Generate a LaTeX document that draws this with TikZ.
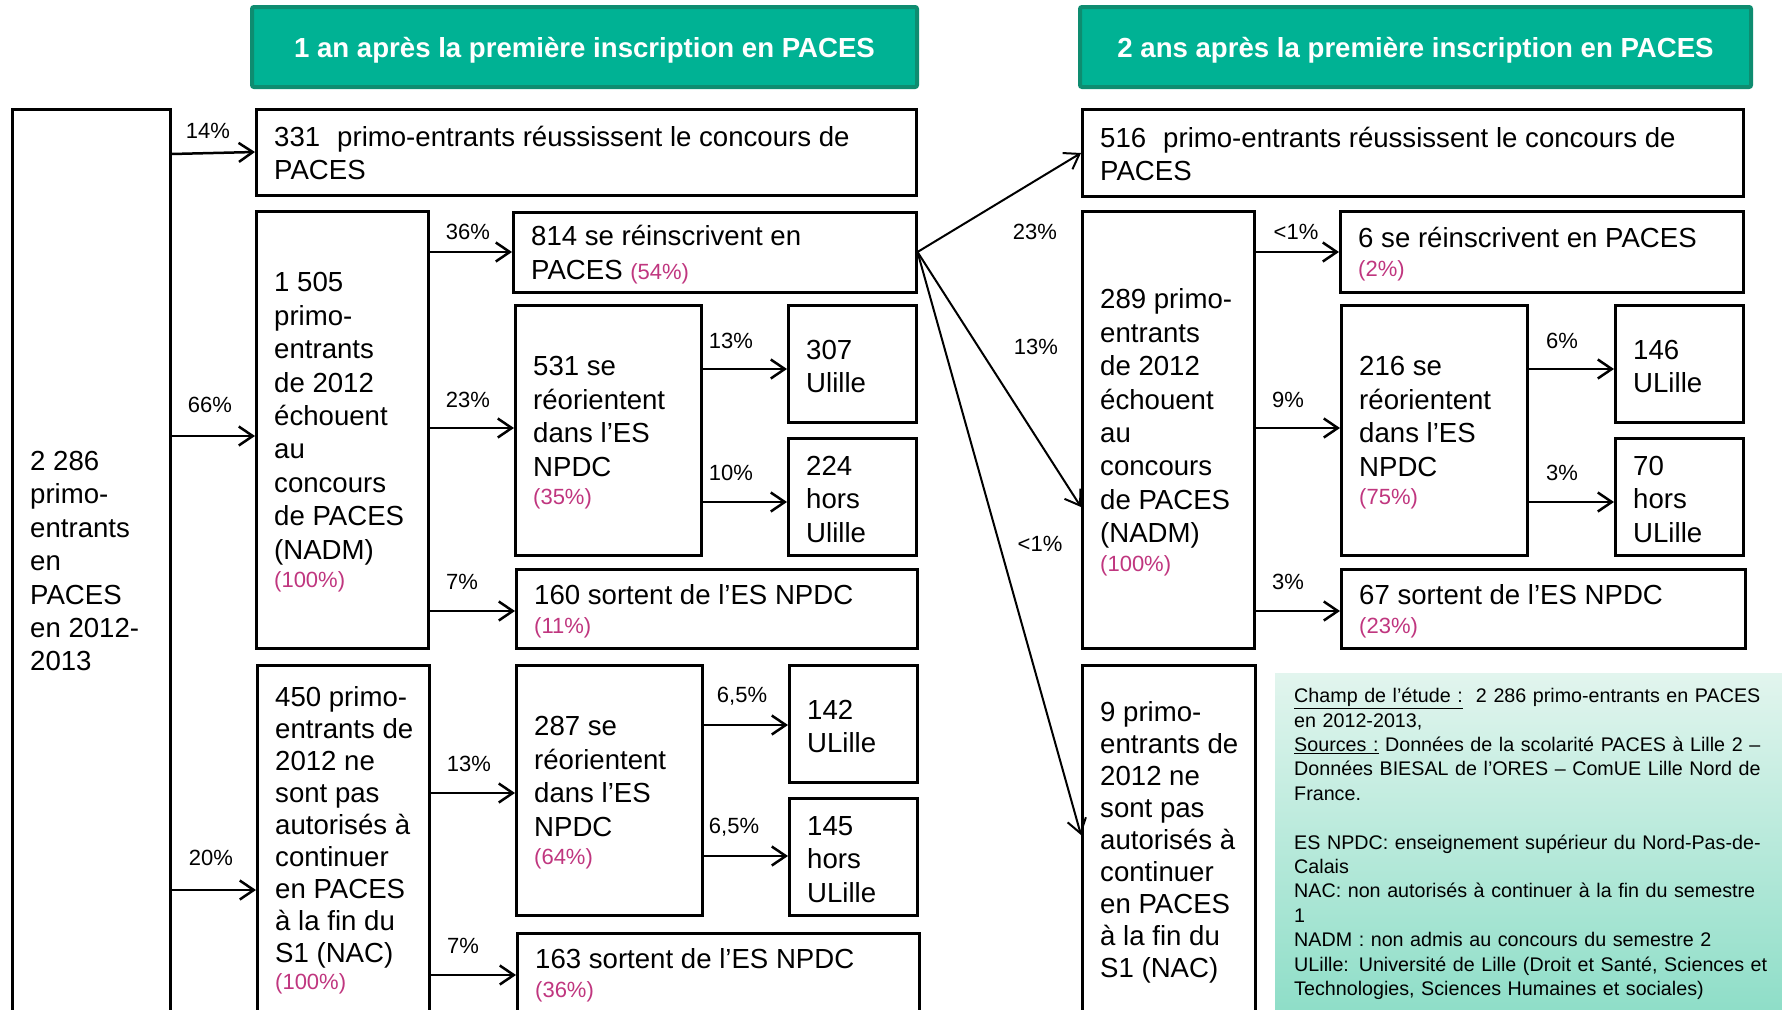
\documentclass[tikz,border=0pt]{standalone}
\usepackage{fontspec}
\setmainfont{Liberation Sans}
\usetikzlibrary{arrows.meta}
\definecolor{teal1}{RGB}{0,178,148}
\definecolor{teal2}{RGB}{14,140,112}
\definecolor{pinkc}{RGB}{192,54,127}
\definecolor{legtop}{RGB}{226,245,238}
\definecolor{legbot}{RGB}{143,222,200}
\newcommand\mf{\fontsize{27.6}{33.4}\selectfont}
\newcommand\mfn{\fontsize{27.6}{32}\selectfont}
\newcommand\lf{\fontsize{19.7}{24.4}\selectfont}
\newcommand\pc[1]{{\color{pinkc}\fontsize{22}{26}\selectfont #1}}
\tikzset{
  box/.style={draw, line width=2.5pt, inner sep=0pt, anchor=north west},
  txt/.style={anchor=west, inner sep=0pt, align=left, font=\mf},
  lab/.style={inner sep=0pt, font=\fontsize{22}{26}\selectfont},
  hdr/.style={draw=teal2, fill=teal1, line width=4pt, rounded corners=2pt, text=white, font=\mf\bfseries, inner sep=0pt, text height=25pt, text depth=3.8pt},
  arr/.style={line width=2.5pt, -{Straight Barb[length=14pt,width=19pt]}},
  darr/.style={line width=2pt, -{Straight Barb[length=14pt,width=19pt]}}
}
\newcommand\bx[7][yshift=-2.5pt]{%
  \node[box, minimum width=#5pt, minimum height=#6pt] (#2) at (#3,#4) {};
  \node[txt,#1] (#2t) at ([xshift=19pt]#2.west) {#7};
}
\begin{document}
\begin{tikzpicture}[x=1pt,y=-1pt]
\useasboundingbox (0,0) rectangle (1782,1009);
\fill[white] (0,0) rectangle (1782,1009);
% headers
\node[hdr, minimum width=665pt, minimum height=80pt] (h1) at (584.5,47) {1 an après la première inscription en PACES};
\node[hdr, minimum width=671pt, minimum height=80pt] (h2) at (1415.5,47) {2 ans après la première inscription en PACES};
% legend
\shade[top color=legtop, bottom color=legbot] (1275,673) rectangle (1782,1009);
\node[anchor=north west, inner sep=0pt, text width=472pt, align=left, font=\lf] (legend) at (1294,688) {%
\makebox[472pt][s]{\underline{Champ de l’étude :}\ \ 2 286 primo-entrants en PACES}\\
en 2012-2013,\\
\makebox[472pt][s]{\underline{Sources :} Données de la scolarité PACES à Lille 2 –}\\
\makebox[472pt][s]{Données BIESAL de l’ORES – ComUE Lille Nord de}\\
France.\\[24.4pt]
\makebox[472pt][s]{ES NPDC: enseignement supérieur du Nord-Pas-de-}\\
Calais\\
\makebox[464pt][s]{NAC: non autorisés à continuer à la fin du semestre}\\
1\\
NADM : non admis au concours du semestre 2\\
\makebox[472pt][s]{ULille: Université de Lille (Droit et Santé, Sciences et}\\
Technologies, Sciences Humaines et sociales)};
% boxes left part
\bx[yshift=0pt]{left}{11}{108}{158}{904}{2 286\\primo-\\entrants\\en\\PACES\\en 2012-\\2013}
\bx[yshift=-1pt]{r331}{255}{108}{660}{86}{331\hspace{17pt}primo-entrants réussissent le concours de\\PACES}
\bx{nadm1}{255}{210}{172}{437}{1 505\\primo-\\entrants\\de 2012\\échouent\\au\\concours\\de PACES\\(NADM)\\[-5pt]\pc{(100\%)}}
\bx{r814}{512}{211}{403}{80}{814 se réinscrivent en\\PACES \pc{(54\%)}}
\bx{reo1}{514}{304}{186}{250}{531 se\\réorientent\\dans l’ES\\NPDC\\[-5pt]\pc{(35\%)}}
\bx{u307}{787}{304}{128}{117}{307\\Ulille}
\bx{h224}{787}{437}{128}{117}{224\\hors\\Ulille}
\bx{s160}{515}{568}{401}{79}{160 sortent de l’ES NPDC\\[-5pt]\pc{(11\%)}}
\bx[yshift=1pt,font=\mfn]{nac1}{256}{664}{172}{352}{450 primo-\\entrants de\\2012 ne\\sont pas\\autorisés à\\continuer\\en PACES\\à la fin du\\S1 (NAC)\\[-5pt]\pc{(100\%)}}
\bx{reo2}{515}{664}{186}{250}{287 se\\réorientent\\dans l’ES\\NPDC\\[-5pt]\pc{(64\%)}}
\bx{u142}{788}{664}{128}{117}{142\\ULille}
\bx{h145}{788}{797}{128}{117}{145\\hors\\ULille}
\bx{s163}{516}{932}{402}{79}{163 sortent de l’ES NPDC\\[-5pt]\pc{(36\%)}}
% boxes right part
\bx[yshift=-1pt]{r516}{1081}{108}{661}{87}{516\hspace{17pt}primo-entrants réussissent le concours de\\PACES}
\bx{nadm2}{1081}{210}{172}{437}{289 primo-\\entrants\\de 2012\\échouent\\au\\concours\\de PACES\\(NADM)\\[-5pt]\pc{(100\%)}}
\bx{r6}{1339}{210}{403}{81}{6 se réinscrivent en PACES\\[-5pt]\pc{(2\%)}}
\bx{reo3}{1340}{304}{186}{250}{216 se\\réorientent\\dans l’ES\\NPDC\\[-5pt]\pc{(75\%)}}
\bx{u146}{1614}{304}{128}{117}{146\\ULille}
\bx{h70}{1614}{437}{128}{117}{70\\hors\\ULille}
\bx{s67}{1340}{568}{404}{79}{67 sortent de l’ES NPDC\\[-5pt]\pc{(23\%)}}
\bx[yshift=-2pt,font=\mfn]{nac2}{1081}{664}{173}{350}{9 primo-\\entrants de\\2012 ne\\sont pas\\autorisés à\\continuer\\en PACES\\à la fin du\\S1 (NAC)}
% arrows left
\draw[arr] (left.east |- 0,154) -- (r331.west |- 0,152);
\draw[arr] (left.east |- 0,436) -- (nadm1.west |- 0,436);
\draw[arr] (left.east |- 0,890) -- (nac1.west |- 0,890);
\draw[arr] (nadm1.east |- 0,252) -- (r814.west |- 0,252);
\draw[arr] (nadm1.east |- 0,428) -- (reo1.west |- 0,428);
\draw[arr] (nadm1.east |- 0,611) -- (s160.west |- 0,611);
\draw[arr] (reo1.east |- 0,369) -- (u307.west |- 0,369);
\draw[arr] (reo1.east |- 0,502) -- (h224.west |- 0,502);
\draw[arr] (nac1.east |- 0,793) -- (reo2.west |- 0,793);
\draw[arr] (nac1.east |- 0,975) -- (s163.west |- 0,975);
\draw[arr] (reo2.east |- 0,725) -- (u142.west |- 0,725);
\draw[arr] (reo2.east |- 0,856) -- (h145.west |- 0,856);
% arrows right
\draw[arr] (nadm2.east |- 0,252) -- (r6.west |- 0,252);
\draw[arr] (nadm2.east |- 0,428) -- (reo3.west |- 0,428);
\draw[arr] (nadm2.east |- 0,611) -- (s67.west |- 0,611);
\draw[arr] (reo3.east |- 0,369) -- (u146.west |- 0,369);
\draw[arr] (reo3.east |- 0,502) -- (h70.west |- 0,502);
% diagonal arrows
\coordinate (d0) at (r814.east |- 0,252);
\draw[darr] (d0) -- (r516.west |- 0,153);
\draw[darr] (d0) -- (nadm2.west |- 0,507);
\draw[darr] (d0) -- (nac2.west |- 0,835);
% labels
\node[lab] (l1) at (208,131) {14\%};
\node[lab] (l2) at (210,405) {66\%};
\node[lab] (l3) at (211,858) {20\%};
\node[lab] (l4) at (468,232) {36\%};
\node[lab] (l5) at (468,400) {23\%};
\node[lab] (l6) at (462,582) {7\%};
\node[lab] (l7) at (731,341) {13\%};
\node[lab] (l8) at (731,473) {10\%};
\node[lab] (l9) at (469,764) {13\%};
\node[lab] (l10) at (463,946) {7\%};
\node[lab] (l11) at (742,696) {6,5\%};
\node[lab] (l12) at (734,827) {6,5\%};
\node[lab] (l13) at (1035,232) {23\%};
\node[lab] (l14) at (1036,347) {13\%};
\node[lab] (l15) at (1040,544) {<1\%};
\node[lab] (l16) at (1296,232) {<1\%};
\node[lab] (l17) at (1288,400) {9\%};
\node[lab] (l18) at (1288,582) {3\%};
\node[lab] (l19) at (1562,341) {6\%};
\node[lab] (l20) at (1562,473) {3\%};
\end{tikzpicture}
\end{document}
